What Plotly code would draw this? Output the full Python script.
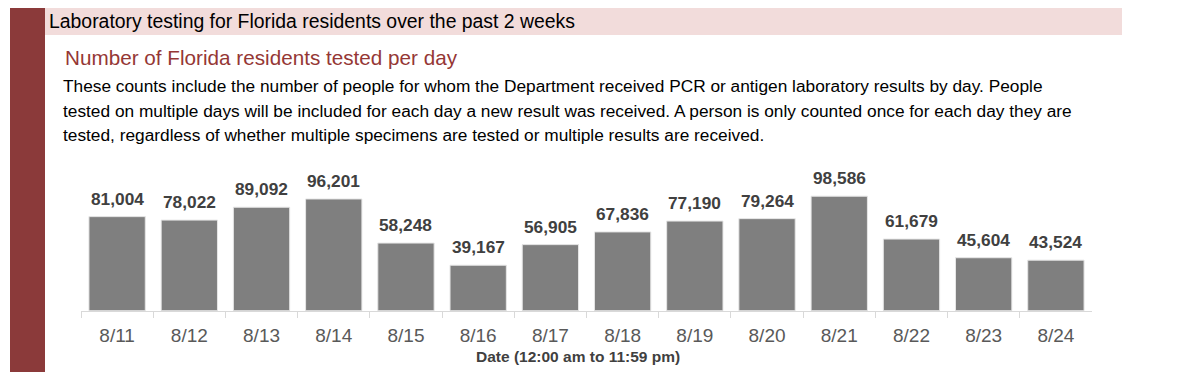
import plotly.graph_objects as go

dates = ["8/11", "8/12", "8/13", "8/14", "8/15", "8/16", "8/17",
         "8/18", "8/19", "8/20", "8/21", "8/22", "8/23", "8/24"]
tested = [81004, 78022, 89092, 96201, 58248, 39167, 56905,
          67836, 77190, 79264, 98586, 61679, 45604, 43524]

# page body has an 8px default margin: size the figure to fit the window
OFF = 8
W, H = 1200 - OFF, 372 - OFF
FONT = "Liberation Sans, Arial, sans-serif"

def px(x):
    return (x - OFF) / W

def py(y):
    return 1 - (y - OFF) / H

fig = go.Figure(go.Bar(
    x=dates, y=tested,
    marker=dict(color="#7f7f7f", line=dict(color="#e6e6e6", width=1)),
    width=0.78,
    hoverinfo="x+y",
))

x0, x1 = 81, 1092
ybase, ytop = 310.7, 160
fig.update_layout(
    width=W, height=H,
    margin=dict(l=0, r=0, t=0, b=0),
    paper_bgcolor="white", plot_bgcolor="white",
    showlegend=False,
    xaxis=dict(
        domain=[px(x0), px(x1)],
        showline=True, linecolor="#d9d9d9", linewidth=1,
        ticks="outside", tickson="boundaries", ticklen=6, tickcolor="#d9d9d9",
        tickfont=dict(family=FONT, size=19, color="#595959"),
        ticklabelstandoff=7,
        showgrid=False,
    ),
    yaxis=dict(
        domain=[py(ybase), py(ytop)],
        range=[0, (ybase - ytop) * 861],
        visible=False, showgrid=False,
    ),
    font=dict(family=FONT),
)

shapes = [
    dict(type="rect", xref="paper", yref="paper", x0=px(10), x1=px(45), y0=0, y1=py(8),
         fillcolor="#8b3a3a", line=dict(width=0), layer="below"),
    dict(type="rect", xref="paper", yref="paper", x0=px(45), x1=px(1122), y0=py(35), y1=py(8),
         fillcolor="#f2dcdb", line=dict(width=0), layer="below"),
]
fig.update_layout(shapes=shapes)

anns = [
    dict(text="Laboratory testing for Florida residents over the past 2 weeks", x=px(47), y=py(21),
         font=dict(size=19.4, color="#000000", family=FONT)),
    dict(text="Number of Florida residents tested per day", x=px(63), y=py(58),
         font=dict(size=20.7, color="#953735", family=FONT)),
    dict(text="These counts include the number of people for whom the Department received PCR or antigen laboratory results by day. People",
         x=px(61), y=py(86), font=dict(size=17.3, color="#000000", family=FONT)),
    dict(text="tested on multiple days will be included for each day a new result was received. A person is only counted once for each day they are",
         x=px(61), y=py(111), font=dict(size=17.3, color="#000000", family=FONT)),
    dict(text="tested, regardless of whether multiple specimens are tested or multiple results are received.",
         x=px(61), y=py(135), font=dict(size=17.3, color="#000000", family=FONT)),
]
annotations = []
for a in anns:
    a.update(xref="paper", yref="paper", xanchor="left", yanchor="middle", showarrow=False)
    annotations.append(a)
annotations.append(dict(text="<b>Date (12:00 am to 11:59 pm)</b>", x=px(578), y=py(356),
                        xref="paper", yref="paper", xanchor="center", yanchor="middle",
                        showarrow=False, font=dict(size=15.5, color="#404040", family=FONT)))
for d, v in zip(dates, tested):
    annotations.append(dict(text=f"<b>{v:,}</b>", x=d, y=v, xref="x", yref="y",
                            xanchor="center", yanchor="bottom", yshift=6, showarrow=False,
                            font=dict(size=17.3, color="#404040", family=FONT)))
fig.update_layout(annotations=annotations)

fig.write_html("out.html")
